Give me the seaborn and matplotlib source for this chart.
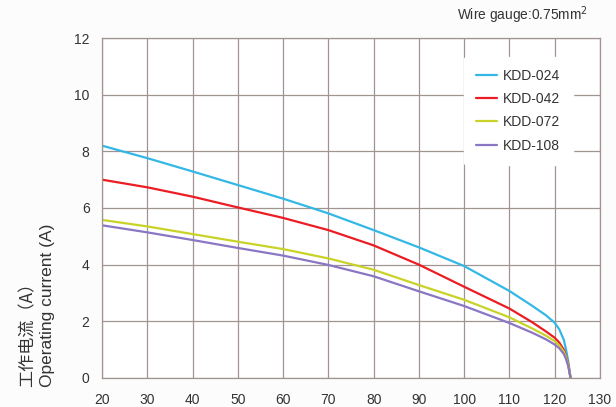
import pandas as pd
import matplotlib.pyplot as plt
import seaborn as sns

# Temperatura (x) y corriente de operación (A)
temp = [20, 30, 40, 50, 60, 70, 80, 90, 100, 110, 115, 118, 120, 121, 122, 122.5, 123, 123.5]
kdd_024 = [8.2, 7.76, 7.29, 6.81, 6.33, 5.81, 5.22, 4.61, 3.95, 3.07, 2.55, 2.22, 1.95, 1.72, 1.35, 1.0, 0.58, 0.0]
kdd_042 = [7.0, 6.73, 6.4, 6.02, 5.65, 5.22, 4.68, 4.0, 3.22, 2.45, 1.97, 1.65, 1.42, 1.25, 1.0, 0.78, 0.48, 0.0]
kdd_072 = [5.58, 5.35, 5.08, 4.81, 4.55, 4.22, 3.82, 3.28, 2.76, 2.14, 1.75, 1.5, 1.3, 1.15, 0.93, 0.74, 0.45, 0.0]
kdd_108 = [5.39, 5.14, 4.87, 4.59, 4.32, 3.99, 3.59, 3.06, 2.54, 1.94, 1.6, 1.37, 1.18, 1.05, 0.85, 0.67, 0.41, 0.0]

series_names = ["KDD-024", "KDD-042", "KDD-072", "KDD-108"]
colors = ["#33b8e6", "#ec1c24", "#c9d327", "#8a76c4"]
x_ticks = [20, 30, 40, 50, 60, 70, 80, 90, 100, 110, 120, 130]
y_ticks = [0, 2, 4, 6, 8, 10, 12]

# Tabla larga para seaborn
frames = []
for name, vals in zip(series_names, [kdd_024, kdd_042, kdd_072, kdd_108]):
    frames.append(pd.DataFrame({"temp": temp, "current": vals, "model": name}))
df = pd.concat(frames, ignore_index=True)

sns.set_theme(style="white")
plt.rcParams["font.family"] = ["Liberation Sans", "Noto Sans CJK SC", "DejaVu Sans"]

grid_color = "#a09490"
text_color = "#333333"

fig = plt.figure(figsize=(6.16, 4.07), dpi=100)
fig.patch.set_facecolor("#fcfcfd")
ax = fig.add_axes([0.1656, 0.0713, 0.8084, 0.8353])

sns.lineplot(data=df, x="temp", y="current", hue="model", palette=colors,
             estimator=None, linewidth=1.6, ax=ax)

ax.set_xlim(20, 130)
ax.set_ylim(0, 12)
ax.set_xticks(x_ticks)
ax.set_yticks(y_ticks)
ax.grid(True, color=grid_color, linewidth=0.9)
ax.set_axisbelow(True)
for side in ["left", "right", "top", "bottom"]:
    ax.spines[side].set_color(grid_color)
    ax.spines[side].set_linewidth(0.9)
ax.tick_params(axis="x", length=3, width=0.9, color=grid_color, pad=8,
               labelsize=10, labelcolor=text_color)
ax.tick_params(axis="y", length=5, width=0.9, color=grid_color, pad=4,
               labelsize=10, labelcolor=text_color)
ax.set_xlabel("")
ax.set_ylabel("")

handles, labels = ax.get_legend_handles_labels()
ax.legend(handles, labels, loc="upper right", bbox_to_anchor=(0.959, 0.966),
          frameon=True, facecolor="white", edgecolor="white", framealpha=1,
          fontsize=10, labelcolor=text_color, handlelength=1.45,
          handletextpad=0.45, labelspacing=0.66, borderpad=0.9)

fig.text(588 / 616, 1 - 15 / 407, "Wire gauge:0.75mm$^2$", ha="right", va="center",
         fontsize=9.9, color=text_color)

fig.text(27 / 616, 1 - 387 / 407, "工作电流（A）", rotation=90, ha="center", va="bottom",
         fontsize=12.3, color=text_color, family=["Noto Sans CJK SC", "DejaVu Sans"])
fig.text(48 / 616, 1 - 387 / 407, "Operating current (A)", rotation=90, ha="center",
         va="bottom", fontsize=12.5, color=text_color)

plt.savefig("out.png", dpi=100, facecolor=fig.get_facecolor())
